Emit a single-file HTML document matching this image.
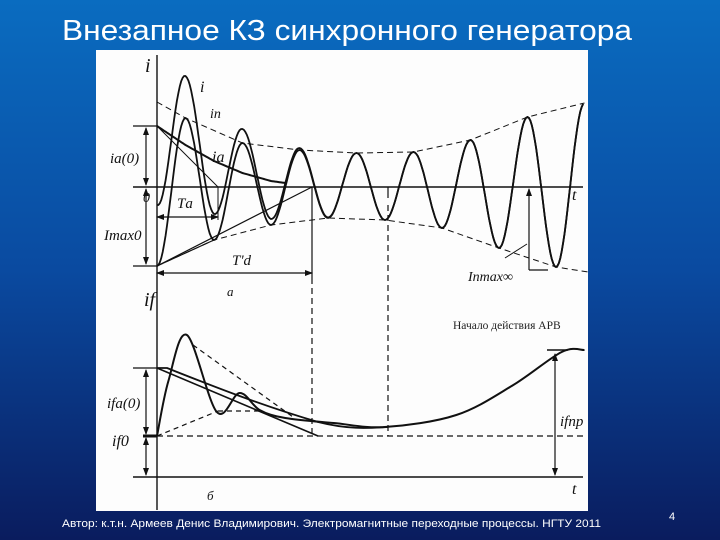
<!DOCTYPE html>
<html><head><meta charset="utf-8"><style>
html,body{margin:0;padding:0;width:720px;height:540px;overflow:hidden}
svg{display:block}
.s{font-family:"Liberation Serif",serif;font-style:italic;fill:#111}
</style></head><body>
<svg width="720" height="540" viewBox="0 0 720 540" xmlns="http://www.w3.org/2000/svg">
<defs>
<linearGradient id="bg" x1="0" y1="0" x2="0" y2="1">
<stop offset="0" stop-color="#0a6cc0"/><stop offset="0.5" stop-color="#0a4aa0"/><stop offset="1" stop-color="#0a1c5e"/>
</linearGradient>
<marker id="ar" markerWidth="8" markerHeight="8" refX="7" refY="4" orient="auto-start-reverse" markerUnits="userSpaceOnUse"><path d="M0,1 L8,4 L0,7 z" fill="#111"/></marker>
</defs>
<rect width="720" height="540" fill="url(#bg)"/>
<text x="62" y="40" font-family="Liberation Sans, sans-serif" font-size="29" fill="#fff" textLength="570" lengthAdjust="spacingAndGlyphs">Внезапное КЗ синхронного генератора</text>
<rect x="96" y="50" width="492" height="461" fill="#fdfdfd"/>
<g id="fig" stroke="#111" fill="none"></g>
<text x="62" y="527" font-family="Liberation Sans, sans-serif" font-size="11" fill="#fff" textLength="539" lengthAdjust="spacingAndGlyphs">Автор: к.т.н. Армеев Денис Владимирович. Электромагнитные переходные процессы. НГТУ 2011</text>
<text x="669" y="520" font-family="Liberation Sans, sans-serif" font-size="11" fill="#fff">4</text>
</svg>
<script>
// Upper panel: extrema of periodic component (relative to axis, up positive), one per half period
const ipExtrema = [-79, 69, -53, 44, -38, 37, -31, 34, -33, 35, -41, 47, -61, 70, -80, 84];
// Aperiodic component samples at each half period
const iaSamples = [61, 42, 26, 14, 6, 2, 0.5, 0, 0, 0, 0, 0, 0, 0, 0, 0];
// Field current key points (t in half periods, value above if0 level)
const ifT = [0, 0.4, 1.05, 2.1, 2.9, 3.6, 4.5, 6.2, 8.0, 10.5, 12.5, 14.2, 15];
const ifV = [0, 55, 101, 24, 43, 26, 18, 13, 9, 21, 51, 84, 86];

const X0 = 157, HP = 28.5, Y0 = 187, YF = 436;
const xs = t => X0 + t * HP;
const yU = v => Y0 - v;
const yF = v => YF - v;
const g = document.getElementById('fig');
const NS = 'http://www.w3.org/2000/svg';
function el(tag, attrs, name) {
  const e = document.createElementNS(NS, tag);
  for (const k in attrs) e.setAttribute(k, attrs[k]);
  
  
  g.appendChild(e); return e;
}
function line(x1,y1,x2,y2,name,extra){ return el('line',Object.assign({x1,y1,x2,y2,'stroke-width':1.2},extra||{}),name); }
function txt(x,y,s,name,size){ const t=el('text',{x,y,class:'s','font-size':size||16,stroke:'none'},name); t.textContent=s; return t; }

function ipAt(t){ const k=Math.min(Math.floor(t),ipExtrema.length-2); const f=t-k; const a=ipExtrema[k], b=ipExtrema[k+1]; return a+(b-a)*(1-Math.cos(Math.PI*f))/2; }
function iaAt(t){ const k=Math.min(Math.floor(t),iaSamples.length-2); const f=t-k; return iaSamples[k]+(iaSamples[k+1]-iaSamples[k])*f; }

// axes
line(157,55,157,510,'vertical-axis',{'stroke-width':1.4});
line(133,Y0,583,Y0,'upper-time-axis',{'stroke-width':1.4});
line(133,477,583,477,'lower-time-axis',{'stroke-width':1.4});
line(133,126,157,126,'ia0-level'); line(133,266,157,266,'imax0-level');

// periodic & total
const tMax = ipExtrema.length-1;
let dP='', dT='', dA='';
for(let t=0;t<=tMax;t+=0.05){ const x=xs(t);
  dP+=(t?'L':'M')+x.toFixed(1)+','+yU(ipAt(t)).toFixed(1);
  dT+=(t?'L':'M')+x.toFixed(1)+','+yU(ipAt(t)+iaAt(t)).toFixed(1);
}
for(let t=0;t<=4.5;t+=0.05){ dA+=(t?'L':'M')+xs(t).toFixed(1)+','+yU(iaAt(t)).toFixed(1); }
el('path',{d:dP,'stroke-width':1.8},'periodic-current-ip');
el('path',{d:dT,'stroke-width':1.8},'total-current-i');
el('path',{d:dA,'stroke-width':2},'aperiodic-current-ia');

// envelopes (through extrema)
let up='', lo='';
ipExtrema.forEach((v,k)=>{ const p=xs(k).toFixed(1)+','+yU(v).toFixed(1); if(v>0) up+=(up?'L':'M')+p; else lo+=(lo?'L':'M')+p; });
el('path',{d:'M157,102'+up.replace(/^M/,'L'),'stroke-dasharray':'6,4'},'upper-envelope');
el('path',{d:lo+'L588,272','stroke-dasharray':'6,4'},'lower-envelope');
line(157,266,xs(2),yU(ipExtrema[2]),'envelope-start-tangent');
line(157,266,312,187,'td-tangent');
line(157,126,218,187,'ta-tangent',{'stroke-width':1});
line(218,187,218,220,'ta-mark',{'stroke-width':1});
line(157,217,218,217,'ta-arrow',{'marker-end':'url(#ar)','marker-start':'url(#ar)'});
line(157,273,312,273,'td-arrow',{'marker-end':'url(#ar)','marker-start':'url(#ar)'});
line(312,187,312,278,'td-mark');
line(312,278,312,436,'td-dashed',{'stroke-dasharray':'6,4'});
line(388,187,388,198,'arv-mark');
line(388,205,388,436,'arv-dashed',{'stroke-dasharray':'6,4'});
line(146,128,146,185,'ia0-arrow',{'marker-end':'url(#ar)','marker-start':'url(#ar)'});
line(146,189,146,264,'imax0-arrow',{'marker-end':'url(#ar)','marker-start':'url(#ar)'});
line(529,270,529,189,'ipmax-arrow',{'marker-end':'url(#ar)'});
line(529,270,548,270,'ipmax-tick');
line(505,258,527,244,'ipmax-leader',{'stroke-width':1});

txt(145,72,'i','axis-label-i',20); txt(200,92,'i','label-i'); txt(210,118,'iп','label-ip',14);
txt(212,162,'ia','label-ia'); txt(110,163,'ia(0)','label-ia0',15); txt(104,240,'Imax0','label-imax0',15);
txt(143,202,'0','label-zero',14); txt(177,208,'Tа','label-ta',15); txt(232,265,'T\'d','label-td',15);
txt(572,200,'t','label-t-upper',16); txt(227,296,'a','label-a',13);
txt(468,281,'Iпmax∞','label-ipmax',14);

// lower panel
line(133,368,157,368,'ifa0-level');
line(143,436,157,436,'if0-level',{'stroke-width':3});
line(157,436,583,436,'if0-dashed',{'stroke-dasharray':'6,4'});
line(157,368,318,436,'ifa-tangent',{'stroke-width':1.6});
line(193,345,293,417,'if-envelope-upper',{'stroke-dasharray':'5,4'});
line(157,436,218,411,'if-envelope-lower',{'stroke-dasharray':'5,4'});
line(218,411,262,411,'if-envelope-flat',{'stroke-dasharray':'5,4'});
// field current curve via Catmull-Rom through key points
const pts=ifT.map((t,i)=>[xs(t),yF(ifV[i])]);
let dF='M'+pts[0].join(',');
for(let i=0;i<pts.length-1;i++){ const p0=pts[Math.max(i-1,0)],p1=pts[i],p2=pts[i+1],p3=pts[Math.min(i+2,pts.length-1)];
  dF+='C'+(p1[0]+(p2[0]-p0[0])/6).toFixed(1)+','+(p1[1]+(p2[1]-p0[1])/6).toFixed(1)+' '+(p2[0]-(p3[0]-p1[0])/6).toFixed(1)+','+(p2[1]-(p3[1]-p1[1])/6).toFixed(1)+' '+p2[0].toFixed(1)+','+p2[1].toFixed(1); }
el('path',{d:dF,'stroke-width':2},'field-current-if');
// decay curve from ifa0
el('path',{d:'M157,368 L167,368 C210,385 260,405 318,422 C350,430 370,428 388,427','stroke-width':1.8},'field-aperiodic-curve');
line(146,370,146,434,'ifa0-arrow',{'marker-end':'url(#ar)','marker-start':'url(#ar)'});
line(146,438,146,475,'if0-arrow',{'marker-end':'url(#ar)','marker-start':'url(#ar)'});
line(555,354,555,475,'ifpr-arrow',{'marker-end':'url(#ar)','marker-start':'url(#ar)'});
line(547,350,568,350,'ifpr-tick',{'stroke-width':1.6});
txt(144,306,'if','axis-label-if',20); txt(107,408,'ifа(0)','label-ifa0',15); txt(112,446,'if0','label-if0',16);
txt(560,426,'ifпр','label-ifpr',15); txt(572,494,'t','label-t-lower',16); txt(207,500,'б','label-b',13);
const n=el('text',{x:453,y:329,'font-family':'Liberation Serif, serif','font-size':11.5,fill:'#222',stroke:'none'},'arv-start-label'); n.textContent='Начало действия АРВ';
</script>
</body></html>
